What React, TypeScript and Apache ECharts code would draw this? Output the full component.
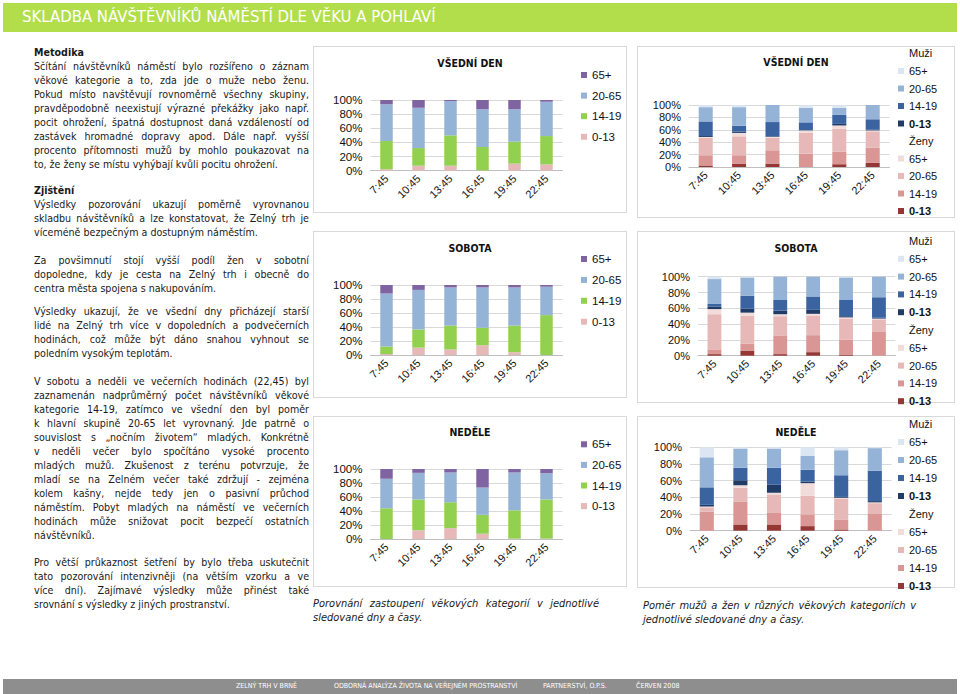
import React, { useEffect, useRef } from 'react';
import * as echarts from 'echarts';

// ---------- data ----------
const TIMES = ['7:45', '10:45', '13:45', '16:45', '19:45', '22:45'];
const AGE_GROUPS = ['0-13', '14-19', '20-65', '65+'];
const AGE_COLORS = ['#e6b9b8', '#92d050', '#95b3d7', '#8064a2'];
const Y_TICKS_MAX = 100;

// share of age groups (%) – weekday
const WEEKDAY_0_13 = [2, 7, 7, 0.5, 10, 9];
const WEEKDAY_14_19 = [40, 25, 43, 33, 31, 40];
const WEEKDAY_20_65 = [52, 57, 48.5, 53.5, 46, 48.5];
const WEEKDAY_65P = [6, 11, 1.5, 13, 13, 2.5];
// Saturday
const SAT_0_13 = [1.5, 10.5, 8, 14, 4, 0];
const SAT_14_19 = [10.5, 26, 34, 25, 38, 57];
const SAT_20_65 = [76, 56.5, 54.5, 57.5, 54.5, 40.5];
const SAT_65P = [12, 7, 3.5, 3.5, 3.5, 2.5];
// Sunday
const SUN_0_13 = [0, 12.5, 15.5, 7.5, 0.5, 0.5];
const SUN_14_19 = [44, 44, 37, 27, 40.5, 56];
const SUN_20_65 = [42, 38, 42.5, 39, 54, 37.5];
const SUN_65P = [14, 5.5, 5, 26.5, 5, 6];

// gender x age (%) – stacking order bottom → top
const GENDER_NAMES = ['Ženy 0-13', 'Ženy 14-19', 'Ženy 20-65', 'Ženy 65+', 'Muži 0-13', 'Muži 14-19', 'Muži 20-65', 'Muži 65+'];
const GENDER_COLORS = ['#953735', '#d99694', '#e6b9b8', '#f2dcdb', '#1f3b66', '#3a63a0', '#95b3d7', '#dce6f2'];

const WD_F_0_13 = [2.5, 5.5, 5.5, 0, 4.5, 7];
const WD_F_14_19 = [16.5, 13.5, 21.5, 21.5, 20, 24];
const WD_F_20_65 = [28, 30.5, 20, 33.5, 37, 26.5];
const WD_F_65P = [1.5, 5.5, 1.5, 4, 5.5, 1.5];
const WD_M_0_13 = [1.5, 2, 1, 0.5, 2.5, 1];
const WD_M_14_19 = [23.5, 9.5, 23, 12.5, 14.5, 17];
const WD_M_20_65 = [23, 30, 27.5, 23.5, 11.5, 23];
const WD_M_65P = [3.5, 3.5, 0, 4.5, 4.5, 0];

const SA_F_0_13 = [2, 6.5, 2, 4.5, 1.5, 0];
const SA_F_14_19 = [6, 8.5, 23, 21.5, 19, 30];
const SA_F_20_65 = [44.5, 35.5, 25, 25, 26.5, 16];
const SA_F_65P = [6.5, 4, 2.5, 2, 1.5, 1];
const SA_M_0_13 = [3, 5, 4.5, 5, 1.5, 1];
const SA_M_14_19 = [4, 16.5, 13.5, 17, 20.5, 26];
const SA_M_20_65 = [31, 23, 29.5, 25, 28.5, 26];
const SA_M_65P = [3, 1, 0, 0, 1, 0];

const SU_F_0_13 = [0, 7.5, 7.5, 5.5, 1.5, 0];
const SU_F_14_19 = [23, 27, 14.5, 14, 12, 20];
const SU_F_20_65 = [5, 17, 21.5, 22.5, 25, 13];
const SU_F_65P = [1, 3, 2, 15, 1, 1];
const SU_M_0_13 = [2, 6, 10, 2, 1, 1.5];
const SU_M_14_19 = [21, 15, 20, 14, 26, 36.5];
const SU_M_20_65 = [36, 23, 23, 17, 30, 27];
const SU_M_65P = [12, 1.5, 1.5, 10, 3.5, 1];

// ---------- texts ----------
const HEADER = 'SKLADBA NÁVŠTĚVNÍKŮ NÁMĚSTÍ DLE VĚKU A POHLAVÍ';
const FOOTER = [
  { t: 'ZELNÝ TRH V BRNĚ', x: 236 },
  { t: 'ODBORNÁ ANALÝZA ŽIVOTA NA VEŘEJNÉM PROSTRANSTVÍ', x: 334 },
  { t: 'PARTNERSTVÍ, O.P.S.', x: 543 },
  { t: 'ČERVEN 2008', x: 636 },
];

type Para = { top: number; heading?: string; lines: string[] };
const PARAGRAPHS: Para[] = [
  {
    top: 52,
    heading: 'Metodika',
    lines: [
      'Sčítání návštěvníků náměstí bylo rozšířeno o záznam',
      'věkové kategorie a to, zda jde o muže nebo ženu.',
      'Pokud místo navštěvují rovnoměrně všechny skupiny,',
      'pravděpodobně neexistují výrazné překážky jako např.',
      'pocit ohrožení, špatná dostupnost daná vzdáleností od',
      'zastávek hromadné dopravy apod. Dále např. vyšší',
      'procento přítomnosti mužů by mohlo poukazovat na',
      'to, že ženy se místu vyhýbají kvůli pocitu ohrožení.',
    ],
  },
  {
    top: 190,
    heading: 'Zjištění',
    lines: [
      'Výsledky pozorování ukazují poměrně vyrovnanou',
      'skladbu návštěvníků a lze konstatovat, že Zelný trh je',
      'víceméně bezpečným a dostupným náměstím.',
    ],
  },
  {
    top: 260,
    lines: [
      'Za povšimnutí stojí vyšší podíl žen v sobotní',
      'dopoledne, kdy je cesta na Zelný trh i obecně do',
      'centra města spojena s nakupováním.',
    ],
  },
  {
    top: 311,
    lines: [
      'Výsledky ukazují, že ve všední dny přicházejí starší',
      'lidé na Zelný trh více v dopoledních a podvečerních',
      'hodinách, což může být dáno snahou vyhnout se',
      'poledním vysokým teplotám.',
    ],
  },
  {
    top: 381,
    lines: [
      'V sobotu a neděli ve večerních hodinách (22,45) byl',
      'zaznamenán nadprůměrný počet návštěvníků věkové',
      'kategorie 14-19, zatímco ve všední den byl poměr',
      'k hlavní skupině 20-65 let vyrovnaný. Jde patrně o',
      'souvislost s „nočním životem“ mladých. Konkrétně',
      'v neděli večer bylo spočítáno vysoké procento',
      'mladých mužů. Zkušenost z terénu potvrzuje, že',
      'mladí se na Zelném večer také zdržují - zejména',
      'kolem kašny, nejde tedy jen o pasivní průchod',
      'náměstím. Pobyt mladých na náměstí ve večerních',
      'hodinách může snižovat pocit bezpečí ostatních',
      'návštěvníků.',
    ],
  },
  {
    top: 562,
    lines: [
      'Pro větší průkaznost šetření by bylo třeba uskutečnit',
      'tato pozorování intenzivněji (na větším vzorku a ve',
      'více dní). Zajímavé výsledky může přinést také',
      'srovnání s výsledky z jiných prostranství.',
    ],
  },
];

const CAPTION_LEFT = ['Porovnání zastoupení věkových kategorií v jednotlivé', 'sledované dny a časy.'];
const CAPTION_RIGHT = ['Poměr mužů a žen v různých věkových kategoriích v', 'jednotlivé sledované dny a časy.'];

// ---------- styling ----------
const FONT_BODY = '"DejaVu Sans Condensed", "Liberation Sans", sans-serif';
const FONT_CHART = '"Liberation Sans", Arial, sans-serif';
const FONT_TITLE = '"DejaVu Sans Condensed", "DejaVu Sans", sans-serif';
const LINE_H = 14;

type Box = { x: number; y: number; w: number; h: number };

type AgeLayout = {
  box: Box;
  gridLeft: number;
  gridTop: number;
  gridW: number;
  gridH: number;
  titleTop: number;
  legFirst: number;
  legSpacing: number;
};

type GenderLayout = {
  box: Box;
  gridLeft: number;
  gridTop: number;
  gridW: number;
  gridH: number;
  titleTop: number;
  rowStart: number;
  rowSpacing: number;
};

function commonAxes(gridLeft: number, gridTop: number, gridW: number, gridH: number, labelSize: number) {
  return {
    grid: { left: gridLeft, top: gridTop, width: gridW, height: gridH },
    xAxis: {
      type: 'category',
      data: TIMES,
      axisTick: { show: false },
      axisLine: { lineStyle: { color: '#bfbfbf' } },
      axisLabel: { rotate: 45, fontSize: 11, color: '#111', fontFamily: FONT_CHART, margin: 6, interval: 0 },
    },
    yAxis: {
      type: 'value',
      min: 0,
      max: Y_TICKS_MAX,
      interval: 20,
      axisLabel: { formatter: '{value}%', fontSize: labelSize, color: '#111', fontFamily: FONT_CHART, margin: 8 },
      splitLine: { lineStyle: { color: '#d9d9d9' } },
      axisLine: { show: false },
      axisTick: { show: false },
    },
  };
}

function ageOption(title: string, data: number[][], L: AgeLayout) {
  return {
    animation: false,
    title: {
      text: title,
      left: 'center',
      top: L.titleTop,
      padding: 0,
      textStyle: { fontFamily: FONT_TITLE, fontSize: 10.5, fontWeight: 'bold', color: '#111' },
    },
    ...commonAxes(L.gridLeft, L.gridTop, L.gridW, L.gridH, 11.5),
    legend: {
      orient: 'vertical',
      left: 268,
      top: L.legFirst - 7,
      padding: 0,
      itemWidth: 6,
      itemHeight: 6,
      itemGap: L.legSpacing - 14,
      icon: 'rect',
      data: [...AGE_GROUPS].reverse(),
      textStyle: { fontFamily: FONT_CHART, fontSize: 11.5, lineHeight: 14, color: '#111' },
    },
    series: AGE_GROUPS.map((g, i) => ({
      name: g,
      type: 'bar',
      stack: 'age',
      data: data[i],
      barWidth: '39%',
      itemStyle: { color: AGE_COLORS[i] },
    })),
  };
}

const LEG_X = 261;

function genderLegend(names: string[], top: number, gap: number) {
  return {
    orient: 'vertical',
    left: LEG_X,
    top,
    padding: 0,
    itemWidth: 6,
    itemHeight: 6,
    itemGap: gap,
    icon: 'rect',
    data: names,
    formatter: (n: string) => {
      const a = n.split(' ')[1];
      return a === '0-13' ? '{b|0-13}' : a;
    },
    textStyle: {
      fontFamily: FONT_CHART,
      fontSize: 11,
      lineHeight: 14,
      color: '#111',
      rich: { b: { fontFamily: FONT_CHART, fontSize: 11, lineHeight: 14, fontWeight: 'bold', color: '#111' } },
    },
  };
}

function genderOption(title: string, data: number[][], L: GenderLayout) {
  const s = L.rowSpacing;
  return {
    animation: false,
    title: {
      text: title,
      left: 'center',
      top: L.titleTop,
      padding: 0,
      textStyle: { fontFamily: FONT_TITLE, fontSize: 10.5, fontWeight: 'bold', color: '#111' },
    },
    ...commonAxes(L.gridLeft, L.gridTop, L.gridW, L.gridH, 11),
    legend: [
      genderLegend(['Muži 65+', 'Muži 20-65', 'Muži 14-19', 'Muži 0-13'], L.rowStart + s - 7, s - 14),
      genderLegend(['Ženy 65+', 'Ženy 20-65', 'Ženy 14-19', 'Ženy 0-13'], L.rowStart + 6 * s - 7, s - 14),
    ],
    graphic: [
      { type: 'text', left: LEG_X + 11, top: L.rowStart - 6, style: { text: 'Muži', fill: '#111', fontSize: 11, fontFamily: FONT_CHART } },
      { type: 'text', left: LEG_X + 11, top: L.rowStart + 5 * s - 6, style: { text: 'Ženy', fill: '#111', fontSize: 11, fontFamily: FONT_CHART } },
    ],
    series: GENDER_NAMES.map((g, i) => ({
      name: g,
      type: 'bar',
      stack: 'gender',
      data: data[i],
      barWidth: '42%',
      itemStyle: { color: GENDER_COLORS[i] },
    })),
  };
}

// ---------- layouts ----------
const AGE_LAYOUTS: AgeLayout[] = [
  { box: { x: 313, y: 46, w: 314, h: 167 }, gridLeft: 57.5, gridTop: 54, gridW: 192, gridH: 70.7, titleTop: 11, legFirst: 29, legSpacing: 20.6 },
  { box: { x: 313, y: 231, w: 314, h: 167 }, gridLeft: 57.5, gridTop: 54, gridW: 192, gridH: 70, titleTop: 11, legFirst: 28, legSpacing: 20.9 },
  { box: { x: 313, y: 416, w: 314, h: 171 }, gridLeft: 57.5, gridTop: 53, gridW: 192, gridH: 70, titleTop: 10, legFirst: 28.3, legSpacing: 20.6 },
];

const GENDER_LAYOUTS: GenderLayout[] = [
  { box: { x: 637, y: 46, w: 318, h: 172 }, gridLeft: 52, gridTop: 59, gridW: 200.4, gridH: 62, titleTop: 10, rowStart: 7.5, rowSpacing: 17.5 },
  { box: { x: 637, y: 231, w: 318, h: 172 }, gridLeft: 61, gridTop: 45.7, gridW: 197.4, gridH: 79, titleTop: 11, rowStart: 10, rowSpacing: 17.8 },
  { box: { x: 637, y: 416, w: 318, h: 172 }, gridLeft: 53, gridTop: 31.3, gridW: 201.6, gridH: 83.4, titleTop: 10, rowStart: 8, rowSpacing: 18 },
];

const AGE_CHARTS = [
  { title: 'VŠEDNÍ DEN', data: [WEEKDAY_0_13, WEEKDAY_14_19, WEEKDAY_20_65, WEEKDAY_65P] },
  { title: 'SOBOTA', data: [SAT_0_13, SAT_14_19, SAT_20_65, SAT_65P] },
  { title: 'NEDĚLE', data: [SUN_0_13, SUN_14_19, SUN_20_65, SUN_65P] },
];

const GENDER_CHARTS = [
  { title: 'VŠEDNÍ DEN', data: [WD_F_0_13, WD_F_14_19, WD_F_20_65, WD_F_65P, WD_M_0_13, WD_M_14_19, WD_M_20_65, WD_M_65P] },
  { title: 'SOBOTA', data: [SA_F_0_13, SA_F_14_19, SA_F_20_65, SA_F_65P, SA_M_0_13, SA_M_14_19, SA_M_20_65, SA_M_65P] },
  { title: 'NEDĚLE', data: [SU_F_0_13, SU_F_14_19, SU_F_20_65, SU_F_65P, SU_M_0_13, SU_M_14_19, SU_M_20_65, SU_M_65P] },
];

// ---------- components ----------
function ChartBox({ box, option }: { box: Box; option: any }) {
  const ref = useRef<HTMLDivElement>(null);
  useEffect(() => {
    if (!ref.current) return;
    const chart = echarts.init(ref.current, null, { renderer: 'svg' });
    chart.setOption(option);
    return () => chart.dispose();
  }, []);
  return (
    <>
      <div
        style={{
          position: 'absolute',
          left: box.x,
          top: box.y,
          width: box.w,
          height: box.h,
          border: '1px solid #d9d9d9',
          boxSizing: 'border-box',
        }}
      />
      <div ref={ref} style={{ position: 'absolute', left: box.x, top: box.y, width: box.w, height: box.h + 12 }} />
    </>
  );
}

function JustLine({ text, justify, bold, italic }: { text: string; justify: boolean; bold?: boolean; italic?: boolean }) {
  return (
    <div
      style={{
        height: LINE_H,
        lineHeight: LINE_H + 'px',
        textAlign: justify ? 'justify' : 'left',
        textAlignLast: justify ? 'justify' : 'left',
        whiteSpace: 'nowrap',
        fontWeight: bold ? 'bold' : 'normal',
        fontStyle: italic ? 'italic' : 'normal',
      } as React.CSSProperties}
    >
      {text}
    </div>
  );
}

export default function App() {
  return (
    <div
      style={{
        position: 'absolute',
        left: 0,
        top: 0,
        width: 960,
        height: 694,
        overflow: 'hidden',
        background: '#fff',
        fontFamily: FONT_BODY,
        color: '#1a1a1a',
      }}
    >
      {/* header */}
      <div
        style={{
          position: 'absolute',
          left: 3,
          top: 3,
          width: 954,
          height: 29,
          background: '#b3de4c',
        }}
      />
      <div
        style={{
          position: 'absolute',
          left: 22,
          top: 7,
          height: 20,
          lineHeight: '20px',
          fontSize: 16.6,
          color: '#fff',
          fontFamily: FONT_TITLE,
          whiteSpace: 'nowrap',
        }}
      >
        {HEADER}
      </div>

      {/* text column */}
      {PARAGRAPHS.map((p, pi) => (
        <div
          key={pi}
          style={{ position: 'absolute', left: 34, top: p.top - LINE_H / 2, width: 275, fontSize: 10.6 }}
        >
          {p.heading && <JustLine text={p.heading} justify={false} bold />}
          {p.lines.map((l, li) => (
            <JustLine key={li} text={l} justify={li < p.lines.length - 1} />
          ))}
        </div>
      ))}

      {/* charts */}
      {AGE_CHARTS.map((c, i) => (
        <ChartBox key={'a' + i} box={AGE_LAYOUTS[i].box} option={ageOption(c.title, c.data, AGE_LAYOUTS[i])} />
      ))}
      {GENDER_CHARTS.map((c, i) => (
        <ChartBox key={'g' + i} box={GENDER_LAYOUTS[i].box} option={genderOption(c.title, c.data, GENDER_LAYOUTS[i])} />
      ))}

      {/* captions */}
      <div style={{ position: 'absolute', left: 313, top: 597, width: 286, fontSize: 11 }}>
        {CAPTION_LEFT.map((l, i) => (
          <JustLine key={i} text={l} justify={i === 0} italic />
        ))}
      </div>
      <div style={{ position: 'absolute', left: 643, top: 599, width: 273, fontSize: 11 }}>
        {CAPTION_RIGHT.map((l, i) => (
          <JustLine key={i} text={l} justify={i === 0} italic />
        ))}
      </div>

      {/* footer */}
      <div style={{ position: 'absolute', left: 3, top: 679, width: 954, height: 15, background: '#8e8e8e' }} />
      {FOOTER.map((f, i) => (
        <div
          key={i}
          style={{
            position: 'absolute',
            left: f.x,
            top: 681,
            height: 11,
            lineHeight: '11px',
            fontSize: 7,
            color: '#fff',
            fontFamily: FONT_TITLE,
            whiteSpace: 'nowrap',
          }}
        >
          {f.t}
        </div>
      ))}
    </div>
  );
}
